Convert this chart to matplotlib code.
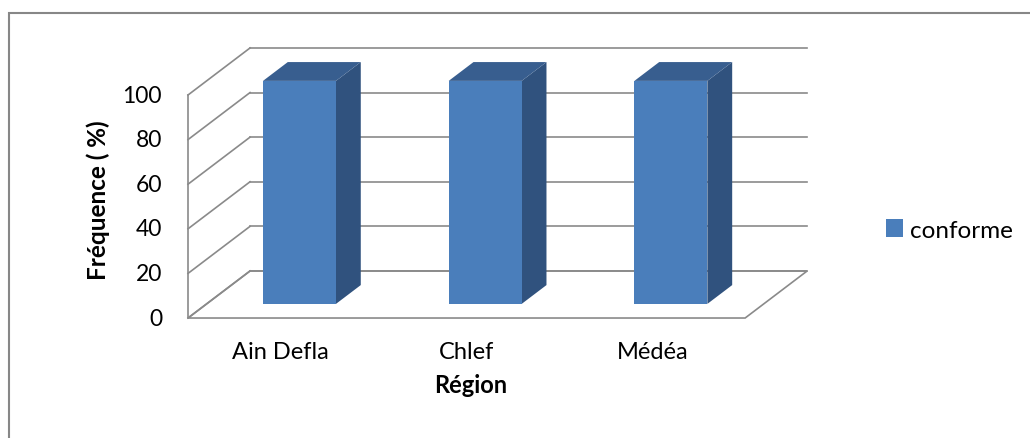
import matplotlib
matplotlib.use("Agg")
import matplotlib.pyplot as plt
from matplotlib.patches import Polygon, Rectangle, Patch

# data
regions = ["Ain Defla", "Chlef", "Médéa"]
conforme = [100, 100, 100]
yticks = [0, 20, 40, 60, 80, 100]

# fake 3d: depth offset of the back wall in data units
DX, DY = 0.334, 21.1
BAR_W = 0.393
BAR_D0, BAR_D1 = 0.3, 0.7

FRONT = "#4A7EBB"
SIDE = "#30527E"
TOP = "#385E8F"
GRID = "#8A8A8A"

plt.rcParams["font.family"] = ["Lato", "DejaVu Sans"]


def proj(x, y, d):
    return (x + d * DX, y + d * DY)


def main():
    fig = plt.figure(figsize=(10.30, 4.39), dpi=100)
    ax = fig.add_axes([0, 0, 1, 1])
    ax.set_xlim(-1.0124, 4.534)
    ax.set_ylim(-53.8, 143.05)
    ax.axis("off")

    n = len(regions)
    top = yticks[-1]
    lw = 1.2

    # back wall gridlines
    for v in yticks:
        x0, y0 = proj(0, v, 1)
        x1, y1 = proj(n, v, 1)
        ax.plot([x0, x1], [y0, y1], color=GRID, lw=lw, zorder=1)
    # side wall diagonals
    for v in yticks:
        x0, y0 = proj(0, v, 0)
        x1, y1 = proj(0, v, 1)
        ax.plot([x0, x1], [y0, y1], color=GRID, lw=lw, zorder=1)
    # front vertical edge of side wall
    ax.plot([0, 0], [0, top], color=GRID, lw=lw, zorder=1)
    # floor
    floor = [proj(0, 0, 0), proj(n, 0, 0), proj(n, 0, 1), proj(0, 0, 1)]
    ax.add_patch(Polygon(floor, closed=True, fill=False, edgecolor=GRID,
                         lw=lw, zorder=1))

    # bars
    for i, v in enumerate(conforme):
        xl = i + 0.5 - BAR_W / 2
        xr = i + 0.5 + BAR_W / 2
        fl = proj(xl, 0, BAR_D0)
        fr = proj(xr, 0, BAR_D0)
        ftl = proj(xl, v, BAR_D0)
        ftr = proj(xr, v, BAR_D0)
        br = proj(xr, 0, BAR_D1)
        btl = proj(xl, v, BAR_D1)
        btr = proj(xr, v, BAR_D1)
        ax.add_patch(Polygon([fr, br, btr, ftr], closed=True, facecolor=SIDE,
                             edgecolor="none", zorder=3))
        ax.add_patch(Polygon([ftl, ftr, btr, btl], closed=True, facecolor=TOP,
                             edgecolor="none", zorder=3))
        ax.add_patch(Polygon([fl, fr, ftr, ftl], closed=True, facecolor=FRONT,
                             edgecolor="none", zorder=4))

    # tick labels
    for v in yticks:
        ax.text(-0.14, v, str(v), ha="right", va="center", fontsize=16.5,
                color="#000000")
    for i, name in enumerate(regions):
        ax.text(i + 0.5, -14.8, name, ha="center", va="center", fontsize=17)

    ax.text(1.52, -29.6, "Région", ha="center", va="center", fontsize=17,
            fontweight="bold")
    ax.text(-0.485, 53.5, "Fréquence ( %)", ha="center", va="center",
            rotation=90, fontsize=17.5, fontweight="bold")

    handle = Patch(facecolor=FRONT, edgecolor="none", label="conforme")
    fig.legend(handles=[handle], loc="center left",
               bbox_to_anchor=(886 / 1030, 1 - 231 / 439), frameon=False,
               fontsize=17.5, handlelength=0.7, handleheight=0.7,
               handletextpad=0.3, borderpad=0, borderaxespad=0)

    # chart area border
    fig.patches.append(Rectangle((9 / 1030, -0.05), 1.1, 1 - 13.5 / 439 + 0.05,
                                 transform=fig.transFigure, fill=False,
                                 edgecolor="#878787", lw=1.5))

    fig.savefig("out.png", dpi=100, facecolor="white")


if __name__ == "__main__":
    main()
